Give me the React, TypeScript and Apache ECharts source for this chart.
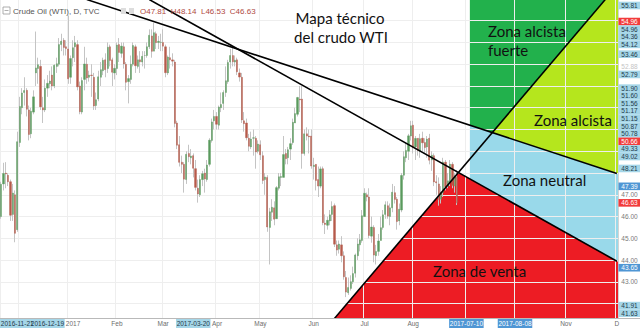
import React, { useEffect, useRef } from 'react';
import * as echarts from 'echarts';

// ---------- axis domain ----------
const START_DAY = '2016-11-21';
const END_DAY = '2017-12-01';
const CLOSED_DAYS = ['2016-12-26', '2017-01-02', '2017-04-14'];
const Y_MIN = 41.34;
const Y_MAX = 55.95;
const gridPrices = [42, 43, 44, 45, 46, 47, 48, 49, 50, 51, 52, 53, 54, 55];

// ---------- daily candles: [open, close, low, high] ----------
const nov16 = [
  [46.0, 47.49, 45.9, 47.6], [47.5, 47.98, 47.2, 48.47], [48.0, 47.96, 47.3, 48.5], [47.9, 47.6, 47.4, 48.0],
  [47.6, 46.06, 45.8, 47.7], [46.1, 47.08, 45.8, 47.5], [47.0, 45.23, 44.82, 47.2], [45.4, 49.44, 45.3, 49.9],
];
const dec16 = [
  [49.4, 51.06, 49.2, 51.5], [51.0, 51.68, 50.7, 51.9], [51.7, 51.79, 51.1, 52.4], [51.8, 50.93, 50.6, 51.9],
  [50.9, 49.77, 49.5, 51.1], [49.8, 50.84, 49.6, 51.0], [50.8, 51.5, 50.7, 51.8], [52.6, 52.83, 52.0, 54.5],
  [52.8, 52.98, 52.1, 53.3], [52.9, 51.04, 50.9, 53.2], [51.0, 50.9, 50.3, 51.5], [50.9, 51.9, 50.8, 52.3],
  [51.9, 52.12, 51.5, 52.5], [52.1, 52.23, 51.9, 52.7], [52.5, 52.0, 51.8, 52.9], [52.0, 52.95, 51.9, 53.0],
  [52.9, 53.02, 52.6, 53.3], [53.0, 53.9, 52.9, 54.2], [53.9, 54.06, 53.6, 54.4], [54.1, 53.77, 53.4, 54.2],
  [53.8, 53.72, 53.4, 54.1],
];
const jan17 = [
  [53.7, 52.33, 52.1, 55.24], [52.4, 53.26, 52.1, 53.4], [53.3, 53.76, 52.9, 54.1], [53.8, 53.99, 53.1, 54.3],
  [53.9, 51.96, 51.8, 54.1], [52.0, 50.82, 50.7, 52.2], [50.8, 52.25, 50.7, 52.4], [52.3, 53.01, 51.8, 53.8],
  [53.0, 52.37, 52.1, 53.3], [52.4, 52.5, 52.2, 52.7], [52.5, 52.48, 51.5, 53.0], [52.4, 51.08, 50.9, 52.6],
  [51.1, 51.37, 50.9, 51.7], [51.4, 52.42, 51.3, 52.7], [52.4, 52.75, 52.0, 53.1], [52.7, 53.18, 52.5, 53.3],
  [53.2, 52.75, 52.4, 53.5], [52.8, 53.78, 52.6, 54.0], [53.8, 53.17, 52.9, 53.9], [53.2, 52.63, 52.0, 53.3],
  [52.6, 52.81, 52.3, 53.0],
];
const feb17 = [
  [52.8, 53.88, 52.5, 54.0], [53.9, 53.54, 53.1, 54.2], [53.5, 53.83, 53.3, 54.0], [53.8, 53.01, 52.8, 54.0],
  [53.0, 52.17, 51.8, 53.1], [52.2, 52.34, 51.2, 52.5], [52.3, 53.0, 52.1, 53.4], [53.0, 53.86, 52.9, 54.0],
  [53.8, 52.93, 52.6, 53.9], [52.9, 53.2, 52.8, 53.4], [53.2, 53.11, 52.6, 53.6], [53.1, 53.36, 52.9, 53.6],
  [53.4, 53.4, 52.8, 53.6], [53.4, 53.8, 53.3, 54.0], [53.8, 54.33, 53.7, 54.6], [54.3, 53.59, 53.3, 54.6],
  [53.6, 54.45, 53.6, 54.9], [54.4, 53.99, 53.7, 54.5], [54.0, 54.05, 53.7, 54.3], [54.0, 54.01, 53.6, 54.4],
];
const mar17 = [
  [54.0, 53.83, 53.6, 54.6], [53.8, 52.61, 52.4, 53.9], [52.6, 53.33, 52.5, 53.4], [53.3, 53.2, 52.8, 53.8],
  [53.2, 53.14, 52.9, 53.5], [53.1, 50.28, 50.1, 53.2], [50.3, 49.28, 49.1, 50.4], [49.3, 48.49, 48.3, 49.7],
  [48.5, 48.4, 48.0, 48.8], [48.4, 47.72, 47.1, 48.5], [47.7, 48.86, 47.5, 49.0], [48.9, 48.75, 48.5, 49.3],
  [48.7, 48.78, 48.4, 49.1], [48.8, 48.22, 47.8, 48.9], [48.2, 47.34, 47.2, 48.6], [47.3, 47.04, 46.64, 47.7],
  [47.0, 47.7, 46.9, 47.9], [47.7, 47.97, 47.4, 48.1], [48.0, 47.73, 47.1, 48.2], [47.7, 48.37, 47.6, 48.6],
  [48.4, 49.51, 48.3, 49.6], [49.5, 50.35, 49.4, 50.5], [50.4, 50.6, 50.0, 50.9],
];
const apr17 = [
  [50.6, 50.24, 50.0, 50.8], [50.2, 51.03, 50.0, 51.1], [51.0, 51.15, 50.8, 51.7], [51.2, 51.7, 50.9, 51.8],
  [51.7, 52.24, 51.5, 52.9], [52.2, 53.08, 52.1, 53.2], [53.1, 53.4, 52.8, 53.7], [53.4, 53.11, 52.9, 53.76],
  [53.1, 53.18, 52.9, 53.4], [53.2, 52.65, 52.5, 53.3], [52.6, 52.41, 52.2, 52.8], [52.4, 50.44, 50.3, 52.6],
  [50.4, 50.27, 49.9, 50.8], [50.3, 49.62, 49.5, 50.5], [49.6, 49.23, 49.0, 49.8], [49.2, 49.56, 49.1, 49.9],
  [49.6, 49.62, 48.8, 50.0], [49.6, 48.97, 48.2, 49.7], [49.0, 49.33, 48.9, 49.5],
];
const may17 = [
  [49.3, 48.84, 48.6, 49.5], [48.8, 47.66, 47.5, 49.0], [47.7, 47.82, 47.0, 48.0], [47.8, 45.52, 45.3, 47.9],
  [45.5, 46.22, 43.8, 46.4], [46.2, 46.43, 45.8, 46.8], [46.4, 45.88, 45.6, 46.7], [45.9, 47.33, 45.9, 47.4],
  [47.3, 47.83, 47.2, 48.0], [47.8, 47.84, 47.4, 48.0], [47.8, 48.85, 47.8, 49.7], [48.9, 48.66, 48.4, 49.1],
  [48.7, 49.07, 48.4, 49.2], [49.1, 49.35, 48.6, 49.6], [49.4, 50.33, 49.3, 50.5], [50.3, 50.73, 50.3, 51.0],
  [50.7, 51.47, 50.6, 51.5], [51.4, 51.36, 50.8, 52.0], [51.4, 48.9, 48.2, 52.0], [48.9, 49.8, 48.8, 50.0],
  [49.8, 49.7, 49.5, 50.1], [49.7, 49.66, 48.9, 50.0], [49.7, 48.32, 48.2, 50.0],
];
const jun17 = [
  [48.3, 48.36, 47.7, 48.7], [48.4, 47.66, 47.2, 48.4], [47.7, 47.4, 46.9, 48.3], [47.4, 48.19, 47.3, 48.3],
  [48.2, 45.72, 45.6, 48.3], [45.7, 45.64, 45.2, 46.1], [45.6, 45.83, 45.4, 46.0], [45.8, 46.08, 45.6, 46.3],
  [46.1, 46.46, 45.8, 46.7], [46.5, 44.73, 44.6, 46.6], [44.7, 44.46, 44.2, 44.9], [44.5, 44.74, 44.3, 44.9],
  [44.7, 44.2, 43.9, 45.1], [44.2, 43.23, 43.1, 44.4], [43.2, 42.53, 42.3, 43.5], [42.5, 42.74, 42.4, 43.2],
  [42.7, 43.01, 42.6, 43.3], [43.0, 43.38, 42.9, 43.7], [43.4, 44.24, 43.2, 44.3], [44.2, 44.74, 44.0, 45.0],
  [44.7, 44.93, 44.4, 45.2], [44.9, 46.04, 44.8, 46.3],
];
const jul17 = [
  [46.0, 47.07, 46.0, 47.3], [47.0, 46.9, 46.7, 47.1], [46.9, 45.13, 45.0, 47.3], [45.1, 45.52, 44.8, 46.0],
  [45.5, 44.23, 43.9, 45.6], [44.2, 44.4, 43.8, 44.7], [44.4, 44.88, 44.2, 45.2], [44.9, 45.49, 44.9, 46.0],
  [45.5, 46.08, 45.4, 46.3], [46.1, 46.54, 45.9, 46.7], [46.5, 46.02, 45.9, 46.7], [46.0, 46.4, 45.6, 46.6],
  [46.4, 47.12, 46.2, 47.5], [47.1, 46.79, 46.6, 47.4], [46.8, 45.77, 45.4, 46.9], [45.8, 46.34, 45.6, 46.6],
  [46.3, 47.89, 46.2, 48.0], [47.9, 48.75, 47.7, 49.0], [48.7, 49.04, 48.5, 49.4], [49.0, 49.71, 48.6, 49.8],
  [49.7, 50.17, 49.5, 50.4],
];
const aug17 = [
  [50.2, 49.16, 48.9, 50.4], [49.2, 49.59, 48.6, 49.7], [49.6, 49.03, 48.8, 49.6], [49.0, 49.58, 48.7, 49.8],
  [49.6, 49.39, 49.0, 49.9], [49.4, 49.17, 48.9, 49.6], [49.2, 49.56, 48.7, 49.7], [49.6, 48.59, 48.4, 49.8],
  [48.6, 48.82, 48.1, 49.0], [48.8, 47.59, 47.4, 48.9], [47.6, 47.55, 47.0, 47.9], [47.5, 46.78, 46.5, 47.8],
  [46.8, 47.09, 46.6, 47.4], [47.1, 48.51, 46.9, 48.7], [48.5, 47.37, 47.2, 48.6], [47.4, 47.64, 47.3, 48.0],
  [47.6, 48.41, 47.4, 48.6], [48.4, 47.43, 47.3, 48.5], [47.4, 47.87, 47.1, 48.0], [47.81, 46.63, 46.53, 48.14],
];

// ---------- drawings: [day, price] ----------
const lineUpper = [['2017-01-13', 55.97], ['2017-12-01', 47.98]];
const lineLower = [['2017-02-21', 55.97], ['2017-12-01', 43.95]];
const lineRising = [['2017-06-14', 41.32], ['2017-11-24', 55.97]];
const zoneStartDay = '2017-09-05';

const zoneColors = { strong: '#22b14c', bull: '#b5e61d', neutral: '#99d9ea', sell: '#ed1c24' };

// ---------- axis labels ----------
const priceLabels = [
  ['55.81', 'range'], ['54.96', 'red'], ['54.96', 'range'], ['54.36', 'range'], ['54.12', 'range'],
  ['53.46', 'range'], ['52.88', 'faint'], ['52.79', 'range'], ['51.90', 'range'], ['51.60', 'range'],
  ['51.56', 'range'], ['51.17', 'range'], ['51.15', 'range'], ['50.87', 'range'], ['50.78', 'range'],
  ['50.66', 'red'], ['49.33', 'range'], ['49.02', 'range'], ['48.21', 'range'], ['47.39', 'sel'],
  ['47.00', 'tick'], ['46.63', 'red'], ['46.00', 'tick'], ['45.00', 'tick'], ['44.00', 'tick'],
  ['43.65', 'sel'], ['43.00', 'tick'], ['41.91', 'range'], ['41.63', 'range'],
];
const timeLabels = [
  ['2016-11-21', '2016-11-21', 'range'], ['2016-12-19', '2016-12-19', 'range'], ['2017-01-03', '2017', 'month'],
  ['2017-02-01', 'Feb', 'month'], ['2017-03-01', 'Mar', 'month'], ['2017-03-20', '2017-03-20', 'range'],
  ['2017-04-03', 'Apr', 'month'], ['2017-05-01', 'May', 'month'], ['2017-06-01', 'Jun', 'month'],
  ['2017-07-03', 'Jul', 'month'], ['2017-08-01', 'Aug', 'month'], ['2017-09-01', '2017-07-10', 'sel'],
  ['2017-10-02', '2017-08-08', 'sel'], ['2017-11-01', 'Nov', 'month'], ['2017-12-01', 'D', 'month'],
];

const labelStyles: any = {
  range: { bg: '#a5d6e8', fg: '#1f3a4a' },
  red: { bg: '#f23b3b', fg: '#ffffff' },
  sel: { bg: '#4f96d4', fg: '#ffffff' },
  tick: { bg: null, fg: '#7a7a7a' },
  faint: { bg: null, fg: '#c4c4c4' },
  month: { bg: null, fg: '#6d6d6d' },
};

function tradingDays(): string[] {
  const out: string[] = [];
  let t = Date.parse(START_DAY + 'T00:00:00Z');
  const end = Date.parse(END_DAY + 'T00:00:00Z');
  while (t <= end) {
    const d = new Date(t);
    const wd = d.getUTCDay();
    const s = d.toISOString().slice(0, 10);
    if (wd !== 0 && wd !== 6 && CLOSED_DAYS.indexOf(s) < 0) out.push(s);
    t += 86400000;
  }
  return out;
}

type Pt = number[];
function clipHalf(poly: Pt[], a: Pt, b: Pt, keepBelow: boolean): Pt[] {
  const side = (p: Pt) => (b[0] - a[0]) * (p[1] - a[1]) - (b[1] - a[1]) * (p[0] - a[0]);
  const inside = (s: number) => (keepBelow ? s >= 0 : s <= 0);
  const out: Pt[] = [];
  for (let i = 0; i < poly.length; i++) {
    const p = poly[i];
    const q = poly[(i + 1) % poly.length];
    const sp = side(p);
    const sq = side(q);
    if (inside(sp)) out.push(p);
    if (inside(sp) !== inside(sq)) {
      const t = sp / (sp - sq);
      out.push([p[0] + (q[0] - p[0]) * t, p[1] + (q[1] - p[1]) * t]);
    }
  }
  return out;
}

export default function App() {
  const ref = useRef<HTMLDivElement>(null);

  useEffect(() => {
    document.body.style.margin = '0';
    const days = tradingDays();
    const dayIndex = (d: string) => days.indexOf(d);
    const history = [...nov16, ...dec16, ...jan17, ...feb17, ...mar17, ...apr17, ...may17, ...jun17, ...jul17, ...aug17];
    const monthStarts = new Set<number>();
    days.forEach((d, i) => {
      if (i === 0 || d.slice(0, 7) !== days[i - 1].slice(0, 7)) monthStarts.add(i);
    });

    const chart = echarts.init(ref.current!, null, { renderer: 'svg' });

    const toPx = (api: any, pt: any) => api.coord([dayIndex(pt[0]), pt[1]]);

    const option: any = {
      animation: false,
      backgroundColor: '#ffffff',
      grid: { left: 0, right: 22, top: 0, bottom: 11 },
      xAxis: {
        type: 'category',
        data: days,
        boundaryGap: true,
        z: 1,
        axisLine: { show: true, lineStyle: { color: '#b9b9b9', width: 1 } },
        axisTick: { show: false },
        axisLabel: { show: false },
        splitLine: {
          show: true,
          interval: (i: number) => monthStarts.has(i),
          lineStyle: { color: '#eeeeee', width: 1 },
        },
      },
      yAxis: {
        type: 'value',
        position: 'right',
        min: Y_MIN,
        max: Y_MAX,
        z: 1,
        axisLine: { show: true, lineStyle: { color: '#d4d4d4' } },
        axisTick: { show: false, customValues: gridPrices },
        axisLabel: { show: false },
        splitLine: { show: true, lineStyle: { color: '#eeeeee', width: 1 } },
      },
      series: [
        {
          type: 'custom',
          name: 'zones',
          z: 0.5,
          silent: true,
          clip: true,
          data: [[0, Y_MIN]],
          renderItem: (params: any, api: any) => {
            const cs = params.coordSys;
            const rect: Pt[] = [
              [cs.x, cs.y], [cs.x + cs.width, cs.y], [cs.x + cs.width, cs.y + cs.height], [cs.x, cs.y + cs.height],
            ];
            const u = lineUpper.map((p) => toPx(api, p));
            const l = lineLower.map((p) => toPx(api, p));
            const r = lineRising.map((p) => toPx(api, p));
            const half = api.size([1, 0])[0] / 2;
            const xs = api.coord([dayIndex(zoneStartDay), Y_MIN])[0] - half;
            const va = [xs, 0];
            const vb = [xs, 1];
            const green = clipHalf(clipHalf(clipHalf(rect, u[0], u[1], false), r[0], r[1], false), va, vb, false);
            const lime = clipHalf(clipHalf(rect, u[0], u[1], false), r[0], r[1], true);
            const blue = clipHalf(clipHalf(clipHalf(rect, u[0], u[1], true), l[0], l[1], false), va, vb, false);
            const red = clipHalf(clipHalf(rect, l[0], l[1], true), r[0], r[1], true);
            const poly = (pts: Pt[], fill: string) => ({ type: 'polygon', shape: { points: pts }, style: { fill } });
            return {
              type: 'group',
              children: [
                poly(green, zoneColors.strong),
                poly(lime, zoneColors.bull),
                poly(blue, zoneColors.neutral),
                poly(red, zoneColors.sell),
              ],
            };
          },
        },
        {
          type: 'candlestick',
          name: 'wicks',
          z: 2,
          barWidth: 0.4,
          data: history.map((c) => [c[0], c[1], c[2], c[3]]),
          itemStyle: {
            color: '#c4c4c4', color0: '#c4c4c4', borderColor: '#c4c4c4', borderColor0: '#c4c4c4', borderWidth: 1,
          },
        },
        {
          type: 'candlestick',
          name: 'bodies',
          z: 2.5,
          barWidth: 1.7,
          data: history.map((c) => [c[0], c[1], Math.min(c[0], c[1]), Math.max(c[0], c[1])]),
          itemStyle: {
            color: '#5a9a5e', color0: '#b65a4b', borderColor: '#5a9a5e', borderColor0: '#b65a4b', borderWidth: 0.4,
          },
        },
        {
          type: 'custom',
          name: 'trendlines',
          z: 3,
          silent: true,
          clip: true,
          data: [[0, Y_MIN]],
          renderItem: (params: any, api: any) => {
            const mk = (seg: any[]) => {
              const a = toPx(api, seg[0]);
              const b = toPx(api, seg[1]);
              return {
                type: 'line',
                shape: { x1: a[0], y1: a[1], x2: b[0], y2: b[1] },
                style: { stroke: '#000000', lineWidth: 1.6 },
              };
            };
            return { type: 'group', children: [mk(lineUpper), mk(lineLower), mk(lineRising)] };
          },
        },
      ],
    };
    chart.setOption(option);

    // ---------- overlay texts (positions via the chart's own scales) ----------
    const g: any[] = [];
    const Z = 100;
    const last = aug17[aug17.length - 1];
    const fmt = (v: number) => v.toFixed(2);

    // header
    g.push({ type: 'rect', z: Z, shape: { x: 3, y: 7, width: 7, height: 7 }, style: { fill: 'none', stroke: '#9a9a9a', lineWidth: 0.8 } });
    g.push({ type: 'line', z: Z, shape: { x1: 4.5, y1: 10.5, x2: 8.5, y2: 10.5 }, style: { stroke: '#9a9a9a', lineWidth: 0.8 } });
    g.push({ type: 'text', z: Z, x: 13, y: 11, style: { text: 'Crude Oil (WTI), D, TVC', fill: '#555555', fontSize: 8, fontFamily: 'Liberation Sans, Arial, sans-serif', verticalAlign: 'middle' } });
    g.push({ type: 'rect', z: Z, shape: { x: 121, y: 8, width: 5, height: 6 }, style: { fill: '#dddddd' } });
    g.push({ type: 'rect', z: Z, shape: { x: 129, y: 8, width: 5, height: 6 }, style: { fill: '#dddddd' } });
    g.push({
      type: 'text', z: Z, x: 140, y: 11,
      style: {
        text: `O${fmt(last[0])}  H${fmt(last[3])}  L${fmt(last[2])}  C${fmt(last[1])}`,
        fill: '#b04a3f', fontSize: 8, fontFamily: 'Liberation Sans, Arial, sans-serif', verticalAlign: 'middle',
      },
    });

    // title
    const bigFont = 'Lato, "Open Sans", sans-serif';
    g.push({ type: 'text', z: Z, x: 340, y: 18, style: { text: 'Mapa técnico', fill: '#111111', fontSize: 15, fontFamily: bigFont, align: 'center', verticalAlign: 'middle' } });
    g.push({ type: 'text', z: Z, x: 341, y: 37, style: { text: 'del crudo WTI', fill: '#111111', fontSize: 15, fontFamily: bigFont, align: 'center', verticalAlign: 'middle' } });

    // zone names
    g.push({ type: 'text', z: Z, x: 488, y: 21, style: { text: 'Zona alcista\nfuerte', lineHeight: 19, fill: '#111111', fontSize: 15, fontFamily: bigFont, verticalAlign: 'top' } });
    g.push({ type: 'text', z: Z, x: 534, y: 120, style: { text: 'Zona alcista', fill: '#111111', fontSize: 15, fontFamily: bigFont, verticalAlign: 'middle' } });
    g.push({ type: 'text', z: Z, x: 503, y: 180, style: { text: 'Zona neutral', fill: '#111111', fontSize: 15, fontFamily: bigFont, verticalAlign: 'middle' } });
    g.push({ type: 'text', z: Z, x: 433, y: 271, style: { text: 'Zona de venta', fill: '#111111', fontSize: 15, fontFamily: bigFont, verticalAlign: 'middle' } });

    // price scale labels (stacked like the original)
    const smallFont = 'Liberation Sans, Arial, sans-serif';
    const H = 7.6;
    let prev = -1e9;
    priceLabels.forEach(([txt, kind]) => {
      let y = chart.convertToPixel({ yAxisIndex: 0 }, parseFloat(txt)) as number;
      y = Math.max(y, 5.5, prev + H);
      prev = y;
      const st = labelStyles[kind];
      if (st.bg) g.push({ type: 'rect', z: Z, shape: { x: 618.5, y: y - H / 2, width: 21.5, height: H }, style: { fill: st.bg } });
      g.push({ type: 'text', z: Z + 1, x: 629.5, y, style: { text: txt, fill: st.fg, fontSize: 6.5, fontFamily: smallFont, align: 'center', verticalAlign: 'middle' } });
    });

    // time scale labels (pushed right when they would collide, as on the original)
    g.push({ type: 'line', z: Z, shape: { x1: 618, y1: 318.5, x2: 640, y2: 318.5 }, style: { stroke: '#b9b9b9', lineWidth: 1 } });
    let lastRight = -1e9;
    timeLabels.forEach(([day, txt, kind]) => {
      let x = chart.convertToPixel({ xAxisIndex: 0 }, dayIndex(day)) as number;
      const st = labelStyles[kind];
      const boxed = !!st.bg;
      const w = boxed ? txt.length * 3.25 + 2 : txt.length * 3.7 + 1;
      if (x - w / 2 < 0) x = w / 2;
      if (!boxed && x - w / 2 < lastRight + 0.5) x = lastRight + 0.5 + w / 2;
      lastRight = x + w / 2;
      if (boxed) g.push({ type: 'rect', z: Z, shape: { x: x - w / 2, y: 319, width: w, height: 9 }, style: { fill: st.bg } });
      g.push({ type: 'text', z: Z + 1, x, y: 323.5, style: { text: txt, fill: st.fg, fontSize: 6.5, fontFamily: smallFont, align: 'center', verticalAlign: 'middle' } });
    });

    chart.setOption({ graphic: g });

    return () => chart.dispose();
  }, []);

  return <div ref={ref} style={{ width: 640, height: 329 }} />;
}
